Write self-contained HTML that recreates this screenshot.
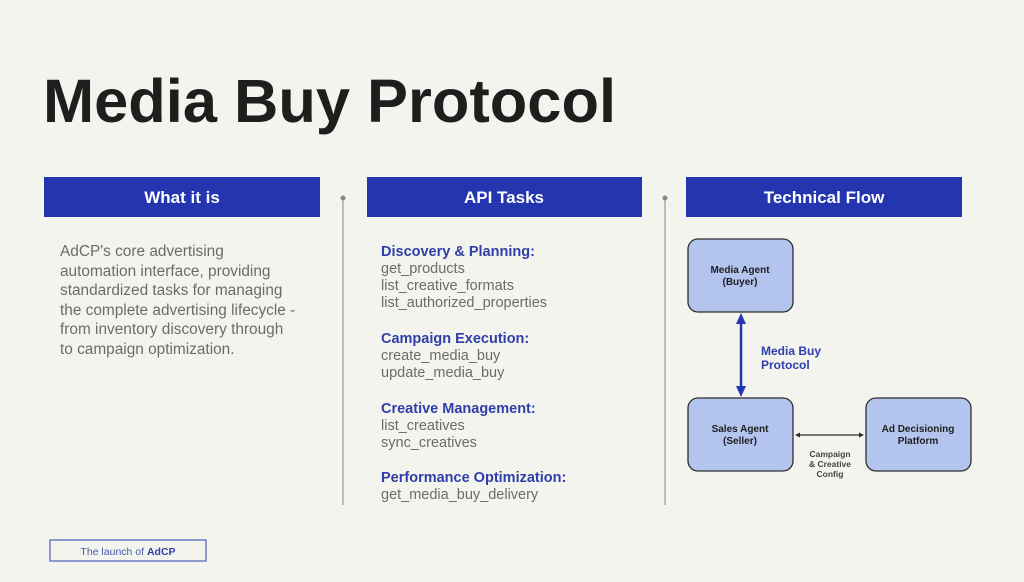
<!DOCTYPE html>
<html><head><meta charset="utf-8"><style>
html,body{margin:0;padding:0;background:#f4f4ef;}
svg{display:block;font-family:"Liberation Sans",sans-serif;}
</style></head><body>
<svg width="1024" height="582" viewBox="0 0 1024 582" xmlns="http://www.w3.org/2000/svg">
<rect width="1024" height="582" fill="#f4f4ef"/>
<text x="43" y="122" font-size="61" font-weight="bold" fill="#1e1e1e" textLength="573" lengthAdjust="spacingAndGlyphs">Media Buy Protocol</text>

<rect x="44" y="177" width="276" height="40" fill="#2336b0"/>
<text x="182" y="203" font-size="17" font-weight="bold" fill="#fff" text-anchor="middle">What it is</text>
<rect x="367" y="177" width="275" height="40" fill="#2336b0"/>
<text x="504" y="203" font-size="17" font-weight="bold" fill="#fff" text-anchor="middle">API Tasks</text>
<rect x="686" y="177" width="276" height="40" fill="#2336b0"/>
<text x="824" y="203" font-size="17" font-weight="bold" fill="#fff" text-anchor="middle">Technical Flow</text>

<line x1="343" y1="198" x2="343" y2="505" stroke="#999" stroke-width="1.2"/>
<circle cx="343" cy="198" r="2.5" fill="#888"/>
<line x1="665" y1="198" x2="665" y2="505" stroke="#999" stroke-width="1.2"/>
<circle cx="665" cy="198" r="2.5" fill="#888"/>

<g font-size="15.4" fill="#6b6b6b">
<text x="60" y="256">AdCP's core advertising</text>
<text x="60" y="276">automation interface, providing</text>
<text x="60" y="295">standardized tasks for managing</text>
<text x="60" y="315">the complete advertising lifecycle -</text>
<text x="60" y="334">from inventory discovery through</text>
<text x="60" y="354">to campaign optimization.</text>
</g>

<g font-size="14.5">
<text x="381" y="256" font-weight="bold" fill="#2f3ea8">Discovery &amp; Planning:</text>
<text x="381" y="273" fill="#6b6b6b">get_products</text>
<text x="381" y="290" fill="#6b6b6b">list_creative_formats</text>
<text x="381" y="307" fill="#6b6b6b">list_authorized_properties</text>
<text x="381" y="343" font-weight="bold" fill="#2f3ea8">Campaign Execution:</text>
<text x="381" y="360" fill="#6b6b6b">create_media_buy</text>
<text x="381" y="377" fill="#6b6b6b">update_media_buy</text>
<text x="381" y="413" font-weight="bold" fill="#2f3ea8">Creative Management:</text>
<text x="381" y="430" fill="#6b6b6b">list_creatives</text>
<text x="381" y="447" fill="#6b6b6b">sync_creatives</text>
<text x="381" y="482" font-weight="bold" fill="#2f3ea8">Performance Optimization:</text>
<text x="381" y="499" fill="#6b6b6b">get_media_buy_delivery</text>
</g>

<g fill="#b3c5ee" stroke="#2c2c2c" stroke-width="1.3">
<rect x="688" y="239" width="105" height="73" rx="10"/>
<rect x="688" y="398" width="105" height="73" rx="10"/>
<rect x="866" y="398" width="105" height="73" rx="10"/>
</g>
<g font-size="10" font-weight="bold" fill="#1e1e1e" text-anchor="middle">
<text x="740" y="273">Media Agent</text>
<text x="740" y="285">(Buyer)</text>
<text x="740" y="432">Sales Agent</text>
<text x="740" y="444">(Seller)</text>
<text x="918" y="432">Ad Decisioning</text>
<text x="918" y="444">Platform</text>
</g>
<line x1="741" y1="322" x2="741" y2="388" stroke="#2336b0" stroke-width="2.5"/>
<polygon points="741,313 736,324 746,324" fill="#2336b0"/>
<polygon points="741,397 736,386 746,386" fill="#2336b0"/>
<text x="761" y="355" font-size="12" font-weight="bold" fill="#2f3ea8">Media Buy</text>
<text x="761" y="369" font-size="12" font-weight="bold" fill="#2f3ea8">Protocol</text>
<line x1="799" y1="435" x2="860" y2="435" stroke="#2c2c2c" stroke-width="1.2"/>
<polygon points="795,435 800,432.5 800,437.5" fill="#2c2c2c"/>
<polygon points="864,435 859,432.5 859,437.5" fill="#2c2c2c"/>
<g font-size="8.5" font-weight="bold" fill="#444" text-anchor="middle">
<text x="830" y="457">Campaign</text>
<text x="830" y="467">&amp; Creative</text>
<text x="830" y="477">Config</text>
</g>

<rect x="50" y="540" width="156" height="21" fill="none" stroke="#5a68c0" stroke-width="1.3"/>
<text x="128" y="555" font-size="10.5" fill="#4a58a8" text-anchor="middle">The launch of <tspan font-weight="bold" fill="#2f3ea8">AdCP</tspan></text>
</svg>
</body></html>
